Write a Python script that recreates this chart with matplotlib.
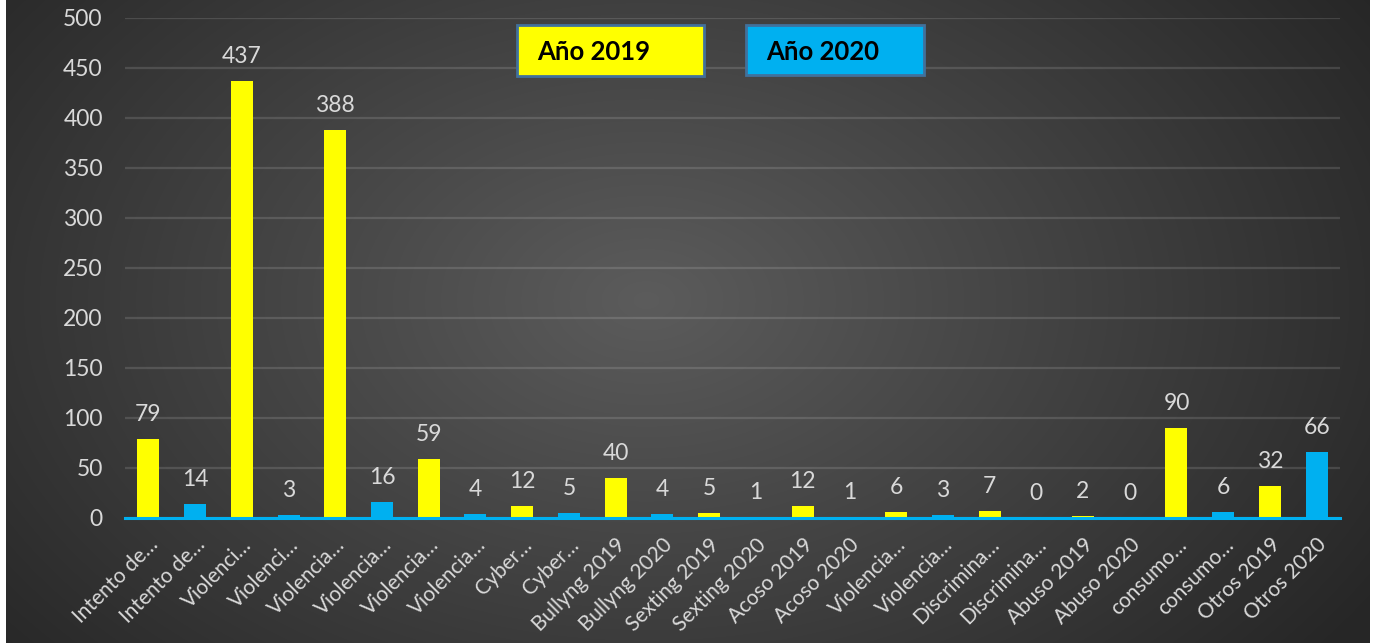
import numpy as np
import matplotlib.pyplot as plt

categorias = ['Intento de…', 'Intento de…', 'Violenci…', 'Violenci…',
              'Violencia…', 'Violencia…', 'Violencia…', 'Violencia…',
              'Cyber…', 'Cyber…', 'Bullyng 2019', 'Bullyng 2020',
              'Sexting 2019', 'Sexting 2020', 'Acoso 2019', 'Acoso 2020',
              'Violencia…', 'Violencia…', 'Discrimina…', 'Discrimina…',
              'Abuso 2019', 'Abuso 2020', 'consumo…', 'consumo…',
              'Otros 2019', 'Otros 2020']
valores = [79, 14, 437, 3, 388, 16, 59, 4, 12, 5, 40, 4, 5, 1, 12, 1,
           6, 3, 7, 0, 2, 0, 90, 6, 32, 66]
leyenda = ['Año 2019', 'Año 2020']

amarillo = '#ffff00'
azul = '#00b0f0'
texto = '#d9d9d9'

plt.rcParams['font.family'] = ['Lato', 'DejaVu Sans']

fig = plt.figure(figsize=(13.76, 6.43), dpi=100)
fig.patch.set_facecolor('white')

# fondo con degradado radial
bg = fig.add_axes([6 / 1376, 0, 1364 / 1376, 1])
yy, xx = np.mgrid[0:643, 0:1364]
d = np.sqrt(((xx - 640) / 900.0) ** 2 + ((yy - 300) / 600.0) ** 2)
g = np.clip(0.36 - 0.22 * d, 0.15, 0.36)
bg.imshow(np.dstack([g, g, g]), aspect='auto', extent=[0, 1364, 643, 0])
bg.axis('off')

ax = fig.add_axes([125 / 1376, 1 - 518 / 643, 1215 / 1376, 500 / 643])
ax.patch.set_alpha(0)

x = np.arange(len(valores))
colores = [amarillo if i % 2 == 0 else azul for i in x]
barras = ax.bar(x, valores, width=0.47, color=colores, zorder=3)

for b, v in zip(barras, valores):
    ax.text(b.get_x() + b.get_width() / 2, v + 14, str(v), ha='center',
            va='bottom', color=texto, fontsize=16.5)

ax.set_xlim(-0.5, len(valores) - 0.5)
ax.set_ylim(0, 500)
ax.set_yticks(range(0, 501, 50))
ax.yaxis.grid(True, color='#ffffff', alpha=0.13, linewidth=1.6, zorder=0)
ax.set_axisbelow(True)
for s in ['top', 'right', 'left']:
    ax.spines[s].set_visible(False)
ax.spines['bottom'].set_color(azul)
ax.spines['bottom'].set_linewidth(2.2)
ax.spines['bottom'].set_zorder(4)
ax.tick_params(axis='y', length=0, colors=texto, labelsize=16.5, pad=16)
ax.tick_params(axis='x', length=0, colors=texto, labelsize=15, pad=12)
ax.set_xticks(x)
ax.set_xticklabels(categorias, rotation=45, ha='right', rotation_mode='anchor')

# cajas de leyenda
cajas = [(517, 25, 187, 51, amarillo), (746, 25, 178, 50, azul)]
for (bx, by, bw, bh, c), t in zip(cajas, leyenda):
    fig.patches.append(plt.Rectangle((bx / 1376, 1 - (by + bh) / 643),
                                     bw / 1376, bh / 643, transform=fig.transFigure,
                                     facecolor=c, edgecolor='#41719c', linewidth=2,
                                     zorder=5))
    fig.text((bx + 20) / 1376, 1 - (by + bh / 2 + 2) / 643, t, ha='left',
             va='center', fontsize=18.5, fontweight='bold', color='black', zorder=6)

fig.savefig('out.png', dpi=100)
